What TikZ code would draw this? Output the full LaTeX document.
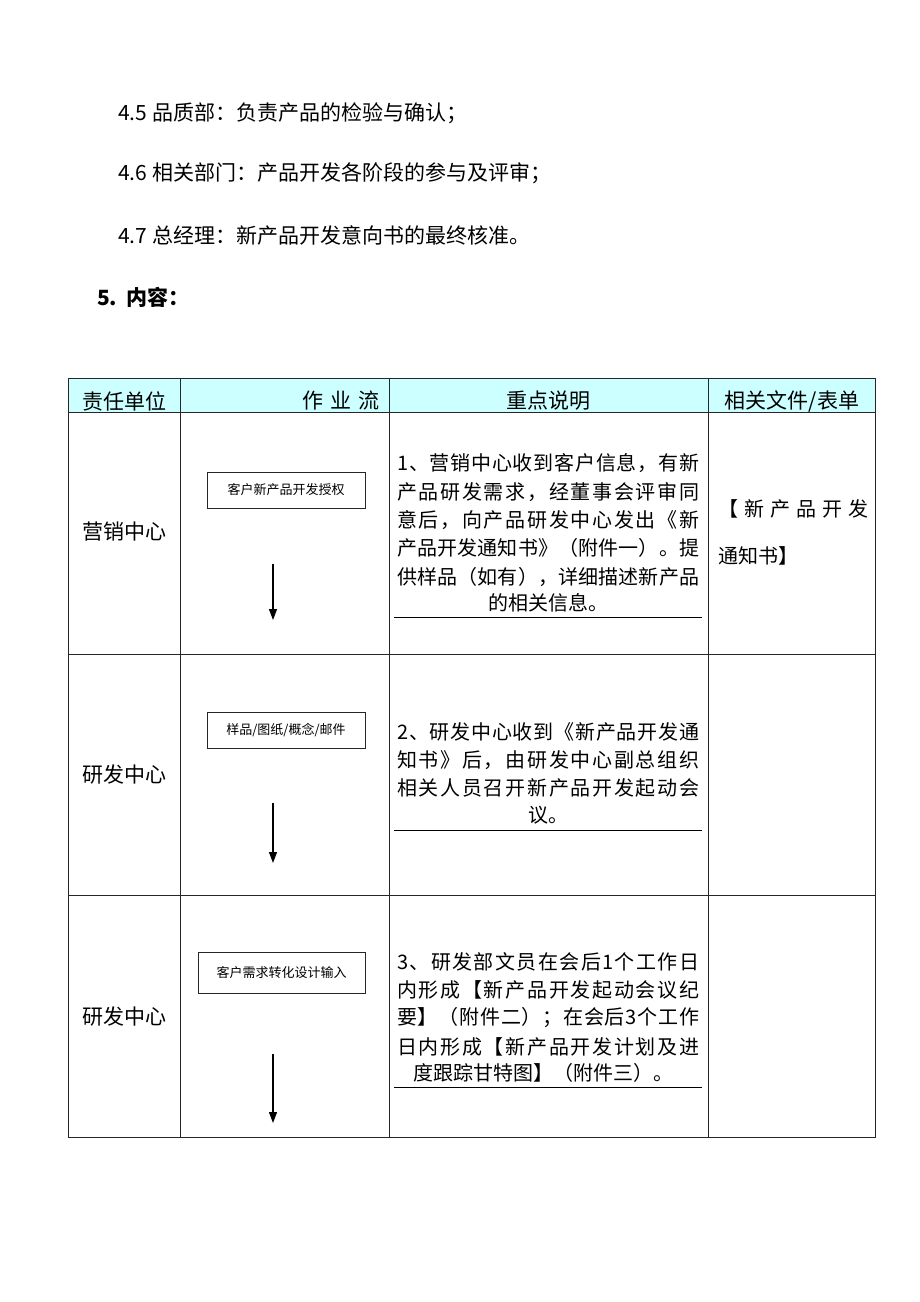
\documentclass[tikz,border=0pt]{standalone}
\usepackage{fontspec}
\setmainfont{Noto Sans CJK SC}
\usetikzlibrary{arrows.meta}
\def\spreadchars#1{\ifx#1\relax\else#1\expandafter\spreadnext\fi}
\def\spreadnext#1{\ifx#1\relax\else\hfill#1\expandafter\spreadnext\fi}
\newcommand\jline[1]{\makebox[302pt]{\spreadchars#1\relax}}
\definecolor{hdrcyan}{HTML}{CCFFFF}
\tikzset{
  tline/.style={draw=black!85, line width=0.9pt},
  body/.style={inner sep=0pt, font=\fontsize{20}{22}\selectfont},
  bodyl/.style={body, anchor=west},
  hdr/.style={inner sep=0pt, font=\fontsize{21}{22}\selectfont},
  flowbox/.style={draw=black!85, line width=1pt, inner sep=0pt, font=\fontsize{13}{14}\selectfont},
  flowarrow/.style={line width=1.2pt, -{Triangle[length=11pt,width=8pt]}},
  uline/.style={draw=black, line width=0.9pt}
}
\begin{document}
\begin{tikzpicture}[x=1pt,y=-1pt]
\useasboundingbox (0,0) rectangle (920,1302);
\fill[white] (0,0) rectangle (920,1302);

% intro text
\node[hdr, anchor=west] (t45) at (118,113) {4.5 品质部：负责产品的检验与确认；};
\node[hdr, anchor=west] (t46) at (118,173) {4.6 相关部门：产品开发各阶段的参与及评审；};
\node[hdr, anchor=west] (t47) at (118,235) {4.7 总经理：新产品开发意向书的最终核准。};
\node[hdr, anchor=west, font=\fontsize{21}{22}\selectfont\bfseries] (t5) at (97,297) {5.\ \ 内容：};

% header
\fill[hdrcyan] (68,378) rectangle (875,412);
\node[hdr] (h1) at (124,401) {责任单位};
\node[hdr, anchor=east] (h2) at (380,401) {作\,\,业\,\,流};
\node[hdr] (h3) at (548,401) {重点说明};
\node[hdr] (h4) at (792,401) {相关文件/表单};

% table grid
\draw[tline] (68,378) rectangle (875,1137);
\draw[tline] (68,412) -- (875,412);
\draw[tline] (68,654) -- (875,654);
\draw[tline] (68,895) -- (875,895);
\draw[tline] (180,378) -- (180,1137);
\draw[tline] (389,378) -- (389,1137);
\draw[tline] (708,378) -- (708,1137);

% column 1
\node[hdr] (u1) at (124,532) {营销中心};
\node[hdr] (u2) at (124,775) {研发中心};
\node[hdr] (u3) at (124,1017) {研发中心};

% flow boxes and arrows
\node[flowbox, minimum width=158pt, minimum height=36pt] (b1) at (286,490) {客户新产品开发授权};
\coordinate (a1s) at (273,564); \coordinate (a1e) at (273,620);
\draw[flowarrow] (a1s) -- (a1e);
\node[flowbox, minimum width=158pt, minimum height=36pt] (b2) at (286,730) {样品/图纸/概念/邮件};
\coordinate (a2s) at (273,803); \coordinate (a2e) at (273,863);
\draw[flowarrow] (a2s) -- (a2e);
\node[flowbox, minimum width=167pt, minimum height=41pt] (b3) at (281.5,972.5) {客户需求转化设计输入};
\coordinate (a3s) at (273,1054); \coordinate (a3e) at (273,1123);
\draw[flowarrow] (a3s) -- (a3e);

% column 3, row 1
\node[bodyl] (r1l1) at (397,463) {\jline{1、营销中心收到客户信息，有新}};
\node[bodyl] (r1l2) at (397,492) {\jline{产品研发需求，经董事会评审同}};
\node[bodyl] (r1l3) at (397,520) {\jline{意后，向产品研发中心发出《新}};
\node[bodyl] (r1l4) at (397,548) {\jline{产品开发通知书》（附件一）。提}};
\node[bodyl] (r1l5) at (397,577) {\jline{供样品（如有），详细描述新产品}};
\node[body] (r1l6) at (548,603) {的相关信息。};
\coordinate (u1a) at (394,617); \coordinate (u1b) at (702,617);
\draw[uline] (u1a) -- (u1b);

% column 3, row 2
\node[bodyl] (r2l1) at (397,732) {\jline{2、研发中心收到《新产品开发通}};
\node[bodyl] (r2l2) at (397,760) {\jline{知书》后，由研发中心副总组织}};
\node[bodyl] (r2l3) at (397,788) {\jline{相关人员召开新产品开发起动会}};
\node[body] (r2l4) at (548,815) {议。};
\coordinate (u2a) at (394,830); \coordinate (u2b) at (702,830);
\draw[uline] (u2a) -- (u2b);

% column 3, row 3
\node[bodyl] (r3l1) at (397,962) {\jline{3、研发部文员在会后1个工作日}};
\node[bodyl] (r3l2) at (397,990) {\jline{内形成【新产品开发起动会议纪}};
\node[bodyl] (r3l3) at (397,1018) {\jline{要】（附件二）；在会后3个工作}};
\node[bodyl] (r3l4) at (397,1047) {\jline{日内形成【新产品开发计划及进}};
\node[body] (r3l5) at (543,1073) {度跟踪甘特图】（附件三）。};
\coordinate (u3a) at (394,1087); \coordinate (u3b) at (702,1087);
\draw[uline] (u3a) -- (u3b);

% column 4
\node[body, anchor=west] (f1) at (718,509) {\makebox[150pt]{\spreadchars【新产品开发\relax}};
\node[body, anchor=west] (f2) at (718,556) {通知书】};
\end{tikzpicture}
\end{document}
